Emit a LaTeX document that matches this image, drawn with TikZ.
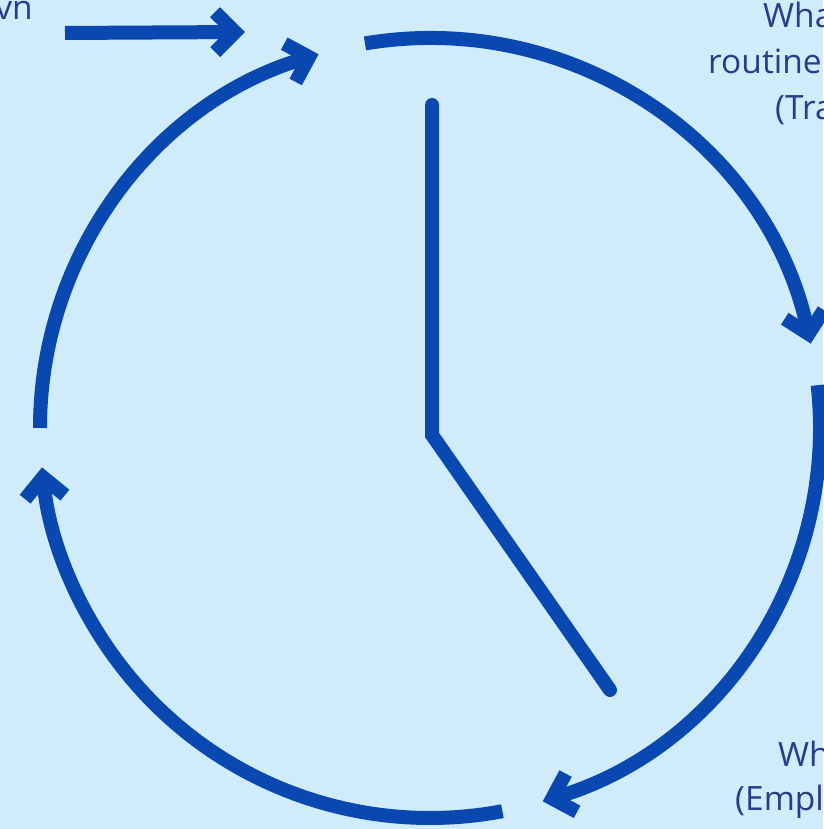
\documentclass[tikz,border=0pt]{standalone}
\usepackage{fontspec}
\setmainfont{Open Sans}
\usetikzlibrary{arrows.meta,calc}
\definecolor{bg}{RGB}{208,236,250}
\definecolor{stroke}{RGB}{8,72,176}
\definecolor{txt}{RGB}{44,58,140}
\begin{document}
\begin{tikzpicture}[x=1pt,y=1pt,
  arcline/.style={draw=stroke, line width=14pt, -{Straight Barb[length=20pt,width=40pt]}},
  hand/.style={draw=stroke, line width=14pt, line cap=round, line join=miter},
  lbl/.style={text=txt, font=\fontsize{33.5}{46}\selectfont, inner sep=0pt, anchor=base west}]
\fill[bg] (0,0) rectangle (823,829);
\useasboundingbox (0,0) rectangle (823,829);
\coordinate (C) at (430,401);
\coordinate (a1) at ($(C)+(99.6:390)$);
\coordinate (a2) at ($(C)+(6.3:390)$);
\coordinate (a3) at ($(C)+(-79.3:390)$);
\coordinate (a4) at ($(C)+(180:390)$);
\draw[arcline] (a1) arc[start angle=99.6, end angle=12.5, radius=390];
\draw[arcline] (a2) arc[start angle=6.3, end angle=-73.2, radius=390];
\draw[arcline] (a3) arc[start angle=-79.3, end angle=-174.2, radius=390];
\draw[arcline] (a4) arc[start angle=180, end angle=106.6, radius=390];
% clock hands
\coordinate (h1) at (432,724);
\coordinate (h2) at (432,394);
\coordinate (h3) at (610,139);
\draw[hand] (h1) -- (h2) -- (h3);
% straight arrow
\node[lbl, anchor=base east] (t0) at (33,809) {vn};
\coordinate (s1) at (65,796);
\coordinate (s2) at (245,797);
\draw[arcline] (s1) -- (s2);
% labels
\node[lbl] (t1) at (763,801) {Wha};
\node[lbl] (t2) at (708,755) {routine};
\node[lbl] (t3) at (775,709) {(Tra};
\node[lbl] (t4) at (778,62) {Wh};
\node[lbl] (t5) at (735,18) {(Empl};
\end{tikzpicture}
\end{document}
